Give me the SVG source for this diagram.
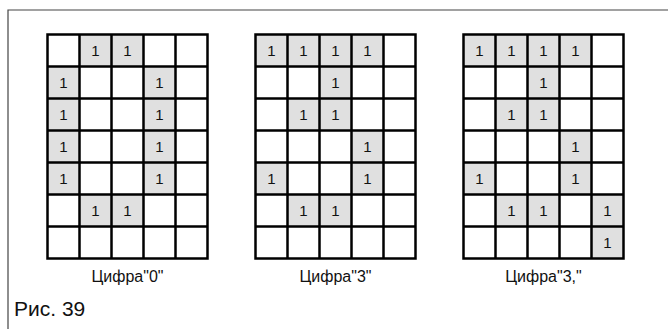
<svg xmlns="http://www.w3.org/2000/svg" xmlns:xlink="http://www.w3.org/1999/xlink" width="668" height="329" viewBox="0 0 668 329">
<style>
.frame{fill:none;stroke:#444;stroke-width:1.2}
.on{fill:#e0e0e0}
.grid{fill:none;stroke:#000;stroke-width:2.5}
.one{font-family:"Liberation Sans",Arial,sans-serif;font-size:15px;fill:#111;text-anchor:middle}
.lbl{font-family:"Liberation Sans",Arial,sans-serif;font-size:16px;fill:#111;text-anchor:middle}
.fig{font-family:"Liberation Sans",Arial,sans-serif;font-size:21px;fill:#111}
</style>
<defs>
<g id="c"><rect class="on" x="0" y="0" width="32" height="32"/><text class="one" x="16" y="21.5">1</text></g>
<path id="g" class="grid" d="M0 0H160V224H0Z M32 0V224 M64 0V224 M96 0V224 M128 0V224 M0 32H160 M0 64H160 M0 96H160 M0 128H160 M0 160H160 M0 192H160"/>
</defs>
<rect width="668" height="329" fill="#fff"/>
<path class="frame" d="M8 329V10H668"/>
<g id="digit0" transform="translate(47.5,34.5)">
<use xlink:href="#c" x="32" y="0"/><use xlink:href="#c" x="64" y="0"/>
<use xlink:href="#c" x="0" y="32"/><use xlink:href="#c" x="96" y="32"/>
<use xlink:href="#c" x="0" y="64"/><use xlink:href="#c" x="96" y="64"/>
<use xlink:href="#c" x="0" y="96"/><use xlink:href="#c" x="96" y="96"/>
<use xlink:href="#c" x="0" y="128"/><use xlink:href="#c" x="96" y="128"/>
<use xlink:href="#c" x="32" y="160"/><use xlink:href="#c" x="64" y="160"/>
<use xlink:href="#g"/>
<text class="lbl" x="80" y="247.5">Цифра"0"</text>
</g>
<g id="digit3" transform="translate(255.5,34.5)">
<use xlink:href="#c" x="0" y="0"/><use xlink:href="#c" x="32" y="0"/><use xlink:href="#c" x="64" y="0"/><use xlink:href="#c" x="96" y="0"/>
<use xlink:href="#c" x="64" y="32"/>
<use xlink:href="#c" x="32" y="64"/><use xlink:href="#c" x="64" y="64"/>
<use xlink:href="#c" x="96" y="96"/>
<use xlink:href="#c" x="0" y="128"/><use xlink:href="#c" x="96" y="128"/>
<use xlink:href="#c" x="32" y="160"/><use xlink:href="#c" x="64" y="160"/>
<use xlink:href="#g"/>
<text class="lbl" x="80" y="247.5">Цифра"3"</text>
</g>
<g id="digit3comma" transform="translate(463.5,34.5)">
<use xlink:href="#c" x="0" y="0"/><use xlink:href="#c" x="32" y="0"/><use xlink:href="#c" x="64" y="0"/><use xlink:href="#c" x="96" y="0"/>
<use xlink:href="#c" x="64" y="32"/>
<use xlink:href="#c" x="32" y="64"/><use xlink:href="#c" x="64" y="64"/>
<use xlink:href="#c" x="96" y="96"/>
<use xlink:href="#c" x="0" y="128"/><use xlink:href="#c" x="96" y="128"/>
<use xlink:href="#c" x="32" y="160"/><use xlink:href="#c" x="64" y="160"/><use xlink:href="#c" x="128" y="160"/>
<use xlink:href="#c" x="128" y="192"/>
<use xlink:href="#g"/>
<text class="lbl" x="80" y="247.5">Цифра"3,"</text>
</g>
<text class="fig" x="14" y="316">Рис. 39</text>
</svg>
